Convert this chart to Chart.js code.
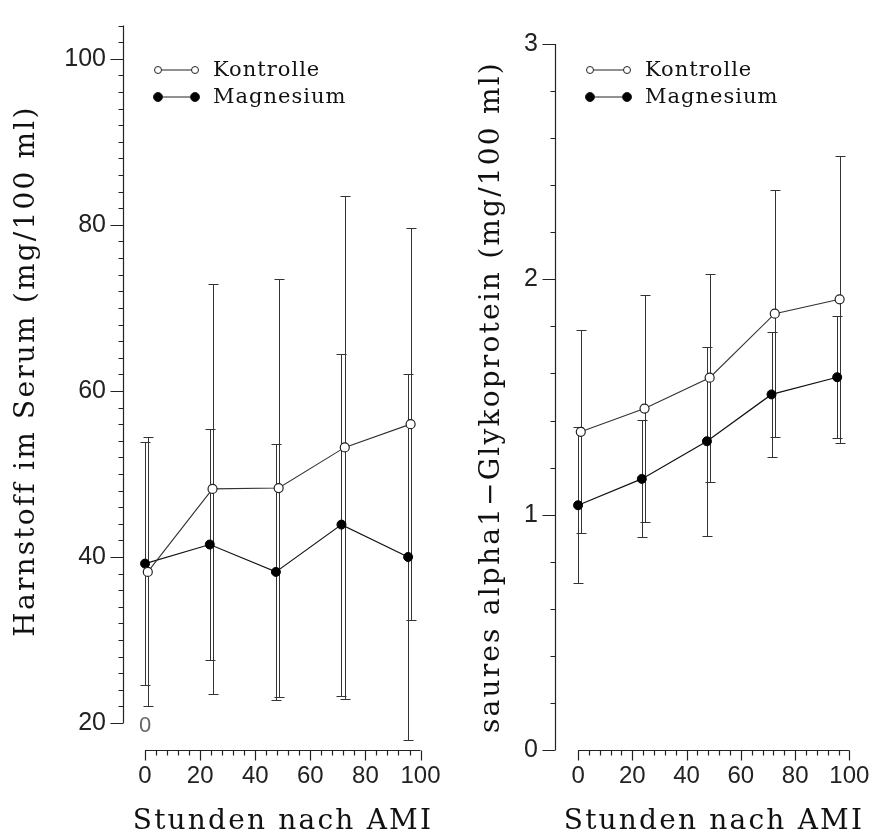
<!DOCTYPE html>
<html>
<head>
<meta charset="utf-8">
<script src="https://cdn.jsdelivr.net/npm/chart.js@4.4.1/dist/chart.umd.min.js"></script>
<style>
  html, body { margin: 0; padding: 0; background: #fff; }
  #wrap { position: relative; width: 873px; height: 836px; }
  .panel { position: absolute; top: 0; }
</style>
</head>
<body>
<div id="wrap">
  <canvas id="left" class="panel" style="left:0" width="440" height="836"></canvas>
  <canvas id="right" class="panel" style="left:440px" width="433" height="836"></canvas>
</div>
<script>
// --- data -----------------------------------------------------------------
const hoursKontrolle = [1.0, 24.5, 48.5, 72.5, 96.4];
const hoursMagnesium = [0.0, 23.5, 47.5, 71.3, 95.5];

const harnstoffKontrolle   = [38.2, 48.2, 48.3, 53.2, 56.0];
const harnstoffKontrolleSD = [16.2, 24.7, 25.2, 30.3, 23.6];
const harnstoffMagnesium   = [39.2, 41.5, 38.2, 43.9, 40.0];
const harnstoffMagnesiumSD = [14.6, 13.9, 15.4, 20.6, 22.0];

const glykoKontrolle   = [1.352, 1.451, 1.582, 1.854, 1.915];
const glykoKontrolleSD = [0.431, 0.482, 0.442, 0.526, 0.610];
const glykoMagnesium   = [1.040, 1.152, 1.312, 1.511, 1.584];
const glykoMagnesiumSD = [0.331, 0.249, 0.402, 0.265, 0.260];

const xTickLabels    = [0, 20, 40, 60, 80, 100];
const harnstoffTicks = [20, 40, 60, 80, 100];
const glykoTicks     = [0, 1, 2, 3];
const seriesNames    = ['Kontrolle', 'Magnesium'];
const xTitle         = 'Stunden nach AMI';

const SERIF = "'DejaVu Serif', serif";
const SANS = "'Liberation Sans', Arial, sans-serif";

// axes, error bars, titles and legend drawn by hand to look like the old plot
function sketchPlugin(cfg) {
  return {
    id: 'sketch',
    beforeDatasetsDraw(chart) {
      const ctx = chart.ctx, xs = chart.scales.x, ys = chart.scales.y;
      ctx.save();
      ctx.strokeStyle = '#333';
      ctx.lineWidth = 1;
      chart.data.datasets.forEach(ds => {
        ds.data.forEach((p, i) => {
          const px = Math.round(xs.getPixelForValue(p.x)) + 0.5;
          const t = Math.round(ys.getPixelForValue(p.y + ds.sd[i])) + 0.5;
          const b = Math.round(ys.getPixelForValue(p.y - ds.sd[i])) + 0.5;
          ctx.beginPath();
          ctx.moveTo(px, t); ctx.lineTo(px, b);
          ctx.moveTo(px - 5, t); ctx.lineTo(px + 5, t);
          ctx.moveTo(px - 5, b); ctx.lineTo(px + 5, b);
          ctx.stroke();
        });
      });
      ctx.restore();
    },
    afterDraw(chart) {
      const ctx = chart.ctx, xs = chart.scales.x, ys = chart.scales.y;
      const ax = Math.round(chart.chartArea.left) + 0.5;
      const by = Math.round(chart.chartArea.bottom) + 0.5;
      ctx.save();
      ctx.strokeStyle = '#222';
      ctx.lineWidth = 1.2;
      ctx.beginPath();
      // y axis with minor ticks
      ctx.moveTo(ax, ys.getPixelForValue(cfg.yFrom));
      ctx.lineTo(ax, ys.getPixelForValue(cfg.yTo));
      const nMinor = Math.round((cfg.yTo - cfg.yFrom) / cfg.yMinor);
      for (let k = 0; k <= nMinor; k++) {
        const py = Math.round(ys.getPixelForValue(cfg.yFrom + k * cfg.yMinor)) + 0.5;
        ctx.moveTo(ax - 5, py); ctx.lineTo(ax, py);
      }
      cfg.yTicks.forEach(v => {
        const py = Math.round(ys.getPixelForValue(v)) + 0.5;
        ctx.moveTo(ax - 13, py); ctx.lineTo(ax, py);
      });
      // x axis, minor tick every 4 h
      ctx.moveTo(xs.getPixelForValue(0), by);
      ctx.lineTo(xs.getPixelForValue(100), by);
      for (let v = 0; v <= 100; v += 4) {
        const px = Math.round(xs.getPixelForValue(v)) + 0.5;
        ctx.moveTo(px, by); ctx.lineTo(px, by + (v % 20 === 0 ? 10 : 5));
      }
      ctx.stroke();

      // axis titles (typewriter spacing)
      ctx.fillStyle = '#111';
      ctx.font = '28px ' + SERIF;
      ctx.letterSpacing = '2.2px';
      ctx.textAlign = 'center';
      ctx.textBaseline = 'middle';
      ctx.fillText(xTitle, cfg.xTitlePos[0], cfg.xTitlePos[1]);
      ctx.save();
      ctx.translate(cfg.yTitlePos[0], cfg.yTitlePos[1]);
      ctx.rotate(-Math.PI / 2);
      ctx.fillText(cfg.yTitle, 0, 0);
      ctx.restore();

      // legend
      ctx.letterSpacing = '1px';
      chart.data.datasets.forEach((ds, i) => {
        const y = cfg.legend[1] + i * 27;
        const x0 = cfg.legend[0];
        ctx.strokeStyle = '#222';
        ctx.lineWidth = 1;
        ctx.beginPath();
        ctx.moveTo(x0, y); ctx.lineTo(x0 + 37, y);
        ctx.stroke();
        [x0, x0 + 37].forEach(cx => {
          ctx.beginPath();
          ctx.arc(cx, y, i === 0 ? 3.5 : 4.5, 0, Math.PI * 2);
          ctx.fillStyle = i === 0 ? '#fff' : '#000';
          ctx.fill();
          ctx.stroke();
        });
        ctx.fillStyle = '#111';
        ctx.font = '21px ' + SERIF;
        ctx.textAlign = 'left';
        ctx.fillText(ds.label, x0 + 55, y + 1);
      });

      if (cfg.stray) {
        ctx.letterSpacing = '0px';
        ctx.fillStyle = '#666';
        ctx.font = '22px ' + SANS;
        ctx.textAlign = 'center';
        ctx.fillText(cfg.stray.text, xs.getPixelForValue(cfg.stray.x), ys.getPixelForValue(cfg.stray.y));
      }
      ctx.restore();
    }
  };
}

function makeChart(id, cfg) {
  const datasets = [
    {
      label: seriesNames[0],
      data: hoursKontrolle.map((h, i) => ({ x: h, y: cfg.kontrolle[i] })),
      sd: cfg.kontrolleSD,
      borderColor: '#333', borderWidth: 1.1,
      pointRadius: 4.5, pointBackgroundColor: '#fff',
      pointBorderColor: '#222', pointBorderWidth: 1.2
    },
    {
      label: seriesNames[1],
      data: hoursMagnesium.map((h, i) => ({ x: h, y: cfg.magnesium[i] })),
      sd: cfg.magnesiumSD,
      borderColor: '#111', borderWidth: 1.2,
      pointRadius: 4.5, pointBackgroundColor: '#000',
      pointBorderColor: '#000', pointBorderWidth: 1
    }
  ];

  return new Chart(document.getElementById(id), {
    type: 'line',
    data: { datasets },
    plugins: [sketchPlugin(cfg)],
    options: {
      responsive: false,
      animation: false,
      layout: { padding: { top: cfg.top, right: 5, left: 0, bottom: 0 } },
      plugins: { legend: { display: false }, tooltip: { enabled: false } },
      elements: { line: { tension: 0 } },
      scales: {
        x: {
          type: 'linear',
          min: cfg.xMin, max: cfg.xMax,
          afterBuildTicks: s => { s.ticks = xTickLabels.map(v => ({ value: v })); },
          afterFit: s => { s.height = 86; s.paddingLeft = 0; s.paddingRight = 0; },
          grid: { display: false, drawTicks: false },
          border: { display: false },
          ticks: { padding: 12, color: '#222', font: { family: SANS, size: 24 } }
        },
        y: {
          min: cfg.yMin, max: cfg.yMax,
          afterBuildTicks: s => { s.ticks = cfg.yTicks.map(v => ({ value: v })); },
          afterFit: s => { s.width = cfg.yWidth; s.paddingTop = 0; s.paddingBottom = 0; },
          grid: { display: false, drawTicks: false },
          border: { display: false },
          ticks: { padding: 17, color: '#222', font: { family: SANS, size: 25 } }
        }
      }
    }
  });
}

makeChart('left', {
  kontrolle: harnstoffKontrolle, kontrolleSD: harnstoffKontrolleSD,
  magnesium: harnstoffMagnesium, magnesiumSD: harnstoffMagnesiumSD,
  yTicks: harnstoffTicks, yMin: 16.75, yMax: 105.4,
  xMin: -8, xMax: 105, top: 14, yWidth: 123,
  yFrom: 20, yTo: 104, yMinor: 2,
  yTitle: 'Harnstoff im Serum (mg/100 ml)',
  xTitlePos: [283, 822], yTitlePos: [27, 371],
  legend: [158, 70],
  stray: { text: '0', x: 0, y: 19.7 }
});

makeChart('right', {
  kontrolle: glykoKontrolle, kontrolleSD: glykoKontrolleSD,
  magnesium: glykoMagnesium, magnesiumSD: glykoMagnesiumSD,
  yTicks: glykoTicks, yMin: 0, yMax: 3,
  xMin: -8.5, xMax: 106.6, top: 44, yWidth: 115,
  yFrom: 0, yTo: 3, yMinor: 0.2,
  yTitle: 'saures alpha1\u2212Glykoprotein (mg/100 ml)',
  xTitlePos: [274, 822], yTitlePos: [52, 397],
  legend: [150, 70]
});
</script>
</body>
</html>
